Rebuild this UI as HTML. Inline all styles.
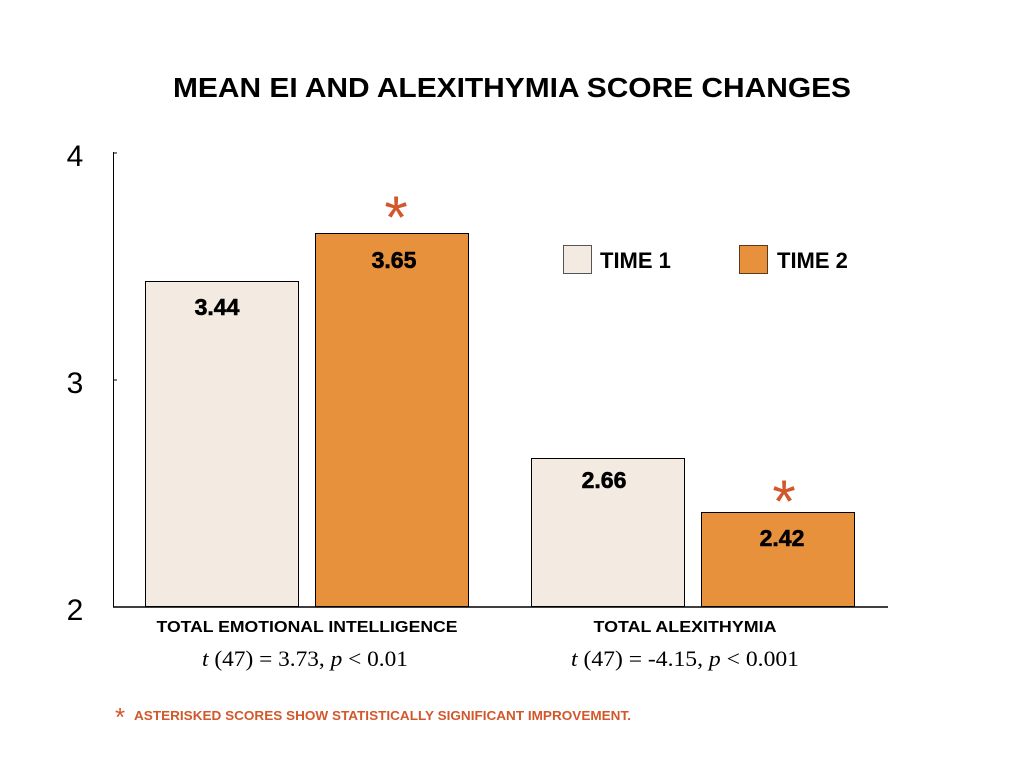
<!DOCTYPE html>
<html><head><meta charset="utf-8"><style>
html,body{margin:0;padding:0;background:#fff;width:1024px;height:768px;overflow:hidden}
</style></head><body>
<svg width="1024" height="768" viewBox="0 0 1024 768" xmlns="http://www.w3.org/2000/svg">
<text x="512" y="97" text-anchor="middle" font-family="Liberation Sans, sans-serif" font-weight="bold" font-size="28" textLength="678" lengthAdjust="spacingAndGlyphs">MEAN EI AND ALEXITHYMIA SCORE CHANGES</text>
<g font-family="Liberation Sans Narrow, Liberation Sans, sans-serif" font-size="30" fill="#000">
<text x="75" y="166" text-anchor="middle">4</text>
<text x="75" y="393" text-anchor="middle">3</text>
<text x="75" y="620" text-anchor="middle">2</text>
</g>
<line x1="113.5" y1="152" x2="113.5" y2="607" stroke="#000" stroke-width="1"/>
<line x1="113" y1="153" x2="117" y2="153" stroke="#000"/>
<line x1="113" y1="380" x2="117" y2="380" stroke="#000"/>
<rect x="145.5" y="281.5" width="153" height="325" fill="#f3eae2" stroke="#000" stroke-width="1"/>
<rect x="315.5" y="233.5" width="153" height="373" fill="#e8913d" stroke="#000" stroke-width="1"/>
<rect x="531.5" y="458.5" width="153" height="148" fill="#f3eae2" stroke="#000" stroke-width="1"/>
<rect x="701.5" y="512.5" width="153" height="94" fill="#e8913d" stroke="#000" stroke-width="1"/>
<line x1="113" y1="607" x2="888" y2="607" stroke="#000" stroke-width="1.5"/>
<g font-family="Liberation Sans, sans-serif" font-weight="bold" font-size="23" text-anchor="middle" stroke="#000" stroke-width="0.6">
<text x="217" y="315">3.44</text>
<text x="394" y="268">3.65</text>
<text x="604" y="488">2.66</text>
<text x="782" y="546">2.42</text>
</g>
<g font-family="Liberation Sans, sans-serif" font-size="60" fill="#d2582c" text-anchor="middle">
<text x="396" y="238">*</text>
<text x="784" y="522">*</text>
</g>
<rect x="563.5" y="245.5" width="28" height="28" fill="#f3eae2" stroke="#555" stroke-width="1"/>
<rect x="739.5" y="245.5" width="28" height="28" fill="#e8913d" stroke="#5a3a1a" stroke-width="1"/>
<g font-family="Liberation Sans, sans-serif" font-weight="bold" font-size="22">
<text x="600" y="268">TIME 1</text>
<text x="777" y="268">TIME 2</text>
</g>
<g font-family="Liberation Sans Narrow, Liberation Sans, sans-serif" font-weight="bold" font-size="16" text-anchor="middle">
<text x="307" y="632" textLength="301" lengthAdjust="spacingAndGlyphs">TOTAL EMOTIONAL INTELLIGENCE</text>
<text x="685" y="632" textLength="183" lengthAdjust="spacingAndGlyphs">TOTAL ALEXITHYMIA</text>
</g>
<g font-family="Liberation Serif, serif" font-size="22" text-anchor="middle">
<text x="305" y="666" textLength="206" lengthAdjust="spacingAndGlyphs"><tspan font-style="italic">t</tspan> (47) = 3.73, <tspan font-style="italic">p</tspan> &lt; 0.01</text>
<text x="685" y="666" textLength="228" lengthAdjust="spacingAndGlyphs"><tspan font-style="italic">t</tspan> (47) = -4.15, <tspan font-style="italic">p</tspan> &lt; 0.001</text>
</g>
<text x="115" y="726" font-family="Liberation Sans, sans-serif" font-size="26" fill="#d2582c">*</text>
<text x="134" y="720" font-family="Liberation Sans Narrow, Liberation Sans, sans-serif" font-size="12.5" font-weight="bold" fill="#d2582c" textLength="497" lengthAdjust="spacingAndGlyphs">ASTERISKED SCORES SHOW STATISTICALLY SIGNIFICANT IMPROVEMENT.</text>
</svg>
</body></html>
